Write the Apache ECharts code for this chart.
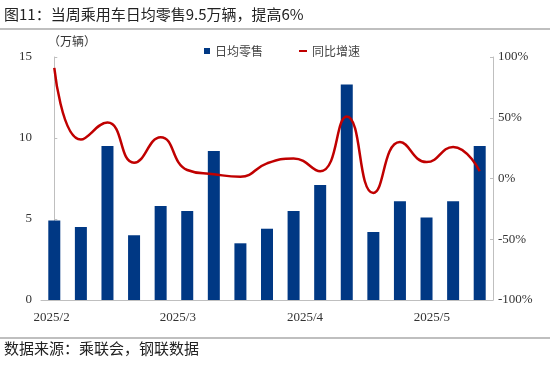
<!DOCTYPE html>
<html>
<head>
<meta charset="utf-8">
<script src="https://cdn.jsdelivr.net/npm/echarts@6/dist/echarts.min.js"></script>
<style>html,body{margin:0;padding:0;background:#fff;}#c{width:550px;height:367px;}</style>
</head>
<body>
<div id="c"></div>
<script>
const weeks = ['W1','W2','W3','W4','W5','W6','W7','W8','W9','W10','W11','W12','W13','W14','W15','W16','W17'];
const dailyRetail = [4.9,4.5,9.5,4.0,5.8,5.5,9.2,3.5,4.4,5.5,7.1,13.3,4.2,6.1,5.1,6.1,9.5];
const yoyGrowth = [91,32,46,13,34,7,3.5,1.5,12.5,16.5,6,51,-12,30,13.5,26,6];
const monthLabels = ['2025/2','2025/3','2025/4','2025/5'];
const monthTickPos = [-0.1,4.65,9.43,14.2];
const leftTicks = [0,5,10,15];
const rightTicks = [-100,-50,0,50,100];

const serif = '"Liberation Serif","Times New Roman",serif';
const cjk = '"Noto Sans CJK SC","Noto Sans",sans-serif';
const chart = echarts.init(document.getElementById('c'));
chart.setOption({
  animation:false,
  grid:{left:41,right:57,top:57,bottom:67},
  legend:[
    {data:[{name:'日均零售',icon:'rect'}],left:199,top:40,itemWidth:6,itemHeight:6,itemGap:6,
     textStyle:{fontFamily:cjk,fontSize:12,color:'#444'}},
    {data:[{name:'同比增速',icon:'rect'}],left:294,top:40,itemWidth:8,itemHeight:2,itemGap:6,
     textStyle:{fontFamily:cjk,fontSize:12,color:'#444'}}
  ],
  graphic:[
    {type:'text',left:4,top:7,style:{text:'图11：当周乘用车日均零售9.5万辆，提高6%',font:'15px '+cjk,fill:'#222'}},
    {type:'line',shape:{x1:0,y1:29,x2:550,y2:29},style:{stroke:'#aaa',lineWidth:1.5}},
    {type:'text',left:48,top:35,style:{text:'（万辆）',font:'12px '+cjk,fill:'#333'}},
    {type:'line',shape:{x1:0,y1:338,x2:550,y2:338},style:{stroke:'#aaa',lineWidth:1.5}},
    {type:'text',left:4,top:341,style:{text:'数据来源：乘联会，钢联数据',font:'15px '+cjk,fill:'#222'}}
  ],
  xAxis:[
    {type:'category',data:weeks,
     axisLine:{lineStyle:{color:'#bfbfbf'}},axisTick:{show:false},axisLabel:{show:false}},
    {type:'value',min:-0.5,max:16.5,position:'bottom',
     axisLine:{show:false},axisTick:{show:false},splitLine:{show:false},
     axisLabel:{customValues:monthTickPos,margin:11,fontFamily:serif,fontSize:13,color:'#333',
       formatter:function(v){const i=monthTickPos.indexOf(v);return i>=0?monthLabels[i]:'';}}}
  ],
  yAxis:[
    {type:'value',min:leftTicks[0],max:leftTicks[leftTicks.length-1],interval:5,
     axisLine:{show:true,lineStyle:{color:'#bfbfbf'}},
     axisTick:{show:true,inside:true,length:3,lineStyle:{color:'#bfbfbf'}},
     splitLine:{show:false},
     axisLabel:{margin:9,fontFamily:serif,fontSize:13,color:'#333'}},
    {type:'value',min:rightTicks[0],max:rightTicks[rightTicks.length-1],interval:50,
     axisLine:{show:true,lineStyle:{color:'#bfbfbf'}},
     axisTick:{show:true,inside:true,length:3,lineStyle:{color:'#bfbfbf'}},
     splitLine:{show:false},
     axisLabel:{margin:5,fontFamily:serif,fontSize:13,color:'#333',formatter:'{value}%'}}
  ],
  series:[
    {name:'日均零售',type:'bar',xAxisIndex:0,yAxisIndex:0,data:dailyRetail,barWidth:12,
     itemStyle:{color:'#003884'}},
    {name:'同比增速',type:'line',xAxisIndex:0,yAxisIndex:1,data:yoyGrowth,smooth:true,
     showSymbol:false,symbol:'none',lineStyle:{color:'#c00000',width:2.5},itemStyle:{color:'#c00000'}}
  ]
});
</script>
</body>
</html>
